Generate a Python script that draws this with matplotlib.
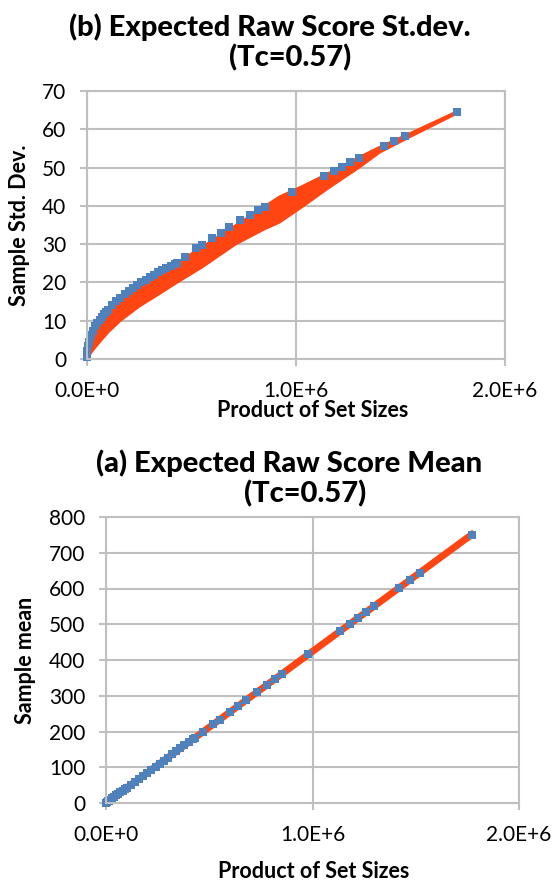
import numpy as np
import matplotlib
matplotlib.use("Agg")
import matplotlib.pyplot as plt

plt.rcParams['font.family'] = ['Lato', 'DejaVu Sans']

# ---- data (x in units of 1e6 = product of set sizes) ----
# blue series: sampled points (std and mean)
blue_x = [0.0, 0.002, 0.005, 0.01, 0.015, 0.02, 0.03, 0.04, 0.05, 0.06, 0.07,
          0.08, 0.09, 0.10, 0.12, 0.14, 0.16, 0.18, 0.20, 0.22, 0.24, 0.26,
          0.28, 0.30, 0.32, 0.34, 0.36, 0.38, 0.40, 0.42, 0.43, 0.47, 0.52,
          0.55, 0.60, 0.64, 0.68, 0.73, 0.78, 0.82, 0.85, 0.98, 1.135, 1.18,
          1.22, 1.26, 1.30, 1.42, 1.47, 1.52, 1.77]
blue_std = [0.5, 2.2, 3.3, 4.5, 5.4, 6.2, 7.4, 8.5, 9.4, 10.2, 11.0,
            11.7, 12.3, 12.9, 14.0, 15.1, 16.0, 16.9, 17.7, 18.5, 19.3, 20.0,
            20.7, 21.3, 22.0, 22.6, 23.2, 23.8, 24.3, 24.9, 25.2, 26.6, 29.0,
            29.8, 31.6, 32.9, 34.5, 36.3, 37.6, 38.9, 39.7, 43.6, 47.9, 49.2,
            50.2, 51.5, 52.6, 55.6, 57.0, 58.2, 64.6]
blue_mean = [0.0, 0.8, 2.1, 4.2, 6.4, 8.5, 12.7, 17.0, 21.2, 25.4, 29.7,
             33.9, 38.2, 42.4, 50.9, 59.4, 67.8, 76.3, 84.8, 93.3, 101.8, 110.2,
             118.7, 127.2, 135.7, 144.2, 152.6, 161.1, 169.6, 178.1, 182.3, 199.3, 220.5,
             233.2, 254.4, 271.4, 288.3, 309.5, 330.7, 347.7, 360.4, 415.5, 481.2, 500.3,
             517.3, 534.2, 551.2, 602.1, 623.3, 644.5, 750.5]

# orange series: expected values, drawn as a band (lower / upper envelope)
orange_x = [0.0, 0.01, 0.03, 0.054, 0.10, 0.158, 0.25, 0.35, 0.43, 0.55,
            0.71, 0.85, 0.92, 1.035, 1.15, 1.30, 1.40, 1.55, 1.77]
orange_std_lo = [0.0, 1.0, 2.5, 4.1, 7.0, 10.0, 13.8, 17.2, 20.0, 24.0,
                 30.0, 34.0, 35.7, 40.0, 44.5, 50.0, 54.0, 58.2, 64.2]
orange_std_hi = [0.3, 4.3, 7.2, 9.6, 12.7, 15.8, 19.5, 22.8, 25.0, 29.2,
                 34.8, 39.8, 42.3, 45.2, 48.3, 52.6, 55.3, 59.0, 64.6]
orange_mean = [0.0, 4.2, 12.7, 22.9, 42.4, 67.0, 106.0, 148.4, 182.3, 233.2,
               301.0, 360.4, 390.1, 438.8, 487.6, 551.2, 593.6, 657.2, 750.5]

x_ticks = [0, 1e6, 2e6]
x_tick_labels = ["0.0E+0", "1.0E+6", "2.0E+6"]

BLUE = '#4F81BD'
ORANGE = '#FF4512'
GRID = '#BFBFBF'

W, H = 554, 881
fig = plt.figure(figsize=(W / 100, H / 100), dpi=100)


def px_axes(left, top, right, bottom):
    return fig.add_axes([left / W, 1 - bottom / H, (right - left) / W, (bottom - top) / H])


def style(ax, ymax, ystep):
    ax.set_xlim(0, 2e6)
    ax.set_ylim(0, ymax)
    ax.set_xticks(x_ticks)
    ax.set_xticklabels(x_tick_labels)
    ax.set_yticks(np.arange(0, ymax + 1, ystep))
    ax.grid(True, color=GRID, lw=1.5)
    ax.set_axisbelow(True)
    for s in ax.spines.values():
        s.set_color(GRID)
        s.set_linewidth(1.5)
    ax.tick_params(colors=GRID, labelcolor='black', labelsize=15,
                   length=5, width=1.5)
    ax.tick_params(axis='x', pad=11)
    ax.tick_params(axis='y', pad=10)


def ftext(x, y, s, **kw):
    fig.text(x / W, 1 - y / H, s, ha='center', va='center', **kw)


xo = np.array(orange_x) * 1e6
xb = np.array(blue_x) * 1e6

# top: standard deviation
ax1 = px_axes(87, 91, 505, 359)
ax1.fill_between(xo, orange_std_lo, orange_std_hi, color=ORANGE, lw=0)
ax1.plot(xo, orange_std_lo, color=ORANGE, lw=2)
ax1.plot(xo, orange_std_hi, color=ORANGE, lw=2)
ax1.plot(xb, blue_std, 's', color=BLUE, ms=5.3, mew=0, clip_on=False)
style(ax1, 70, 10)

# bottom: mean
ax2 = px_axes(106, 517, 519, 803)
ax2.plot(xo, orange_mean, color=ORANGE, lw=5)
ax2.plot(xb, blue_mean, 's', color=BLUE, ms=5.3, mew=0, clip_on=False)
style(ax2, 800, 100)

ftext(270, 27, "(b) Expected Raw Score St.dev.", fontsize=21, fontweight='black')
ftext(290, 58, "(Tc=0.57)", fontsize=21, fontweight='black')
ftext(313, 410, "Product of Set Sizes", fontsize=15.5, fontweight='bold')
ftext(20, 225, "Sample Std. Dev.", fontsize=15.5, fontweight='bold', rotation=90)

ftext(289, 463, "(a) Expected Raw Score Mean", fontsize=21, fontweight='black')
ftext(305, 494, "(Tc=0.57)", fontsize=21, fontweight='black')
ftext(314, 872, "Product of Set Sizes", fontsize=15.5, fontweight='bold')
ftext(26, 660, "Sample mean", fontsize=15.5, fontweight='bold', rotation=90)

fig.savefig('out.png', dpi=100)
